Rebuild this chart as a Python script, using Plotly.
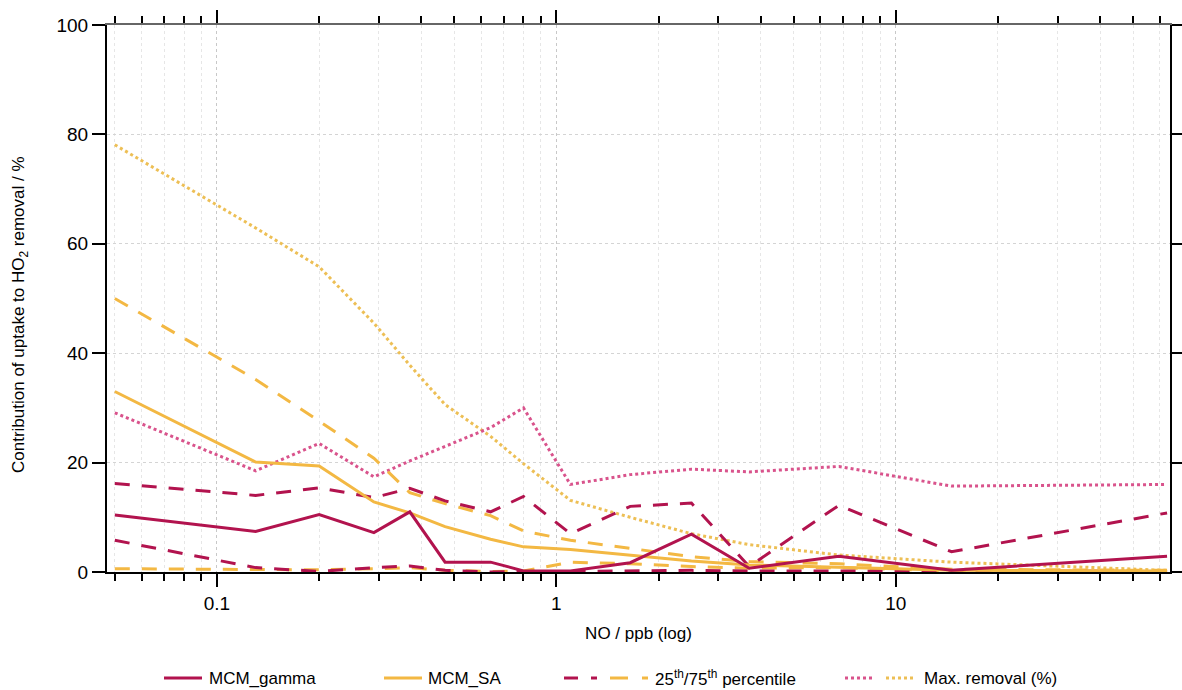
import plotly.graph_objects as go

# ---------------- data ----------------
no_ppb = [0.05, 0.13, 0.2, 0.29, 0.37, 0.47, 0.64, 0.8, 1.1, 1.65, 2.5, 3.7, 6.8, 14.6, 63]

gamma_med = [10.4, 7.4, 10.5, 7.2, 11.0, 1.8, 1.8, 0.2, 0.2, 1.7, 6.9, 0.7, 2.9, 0.3, 2.9]
gamma_p75 = [16.2, 14.0, 15.4, 13.6, 15.3, 13.0, 11.0, 13.8, 7.0, 12.0, 12.6, 1.0, 12.2, 3.7, 10.8]
gamma_p25 = [5.8, 0.8, 0.1, 0.8, 1.1, 0.3, 0.0, 0.1, 0.1, 0.2, 0.3, 0.2, 0.2, 0.1, 0.1]
gamma_max = [29.1, 18.5, 23.5, 17.4, 20.3, 23.0, 26.4, 30.0, 16.0, 17.8, 18.8, 18.3, 19.3, 15.7, 16.0]

sa_med = [33.0, 20.1, 19.4, 12.8, 10.8, 8.3, 6.0, 4.6, 4.1, 3.0, 2.0, 1.3, 0.9, 0.3, 0.2]
sa_p75 = [50.0, 35.2, 27.6, 20.8, 14.5, 12.5, 10.3, 7.5, 5.8, 4.3, 2.8, 1.9, 1.5, 0.5, 0.3]
sa_p25 = [0.6, 0.5, 0.4, 0.6, 0.8, 0.3, 0.1, 0.2, 1.8, 1.5, 1.0, 0.7, 0.8, 0.2, 0.1]
sa_max = [78.1, 62.9, 55.8, 45.5, 37.8, 30.6, 24.8, 19.8, 13.1, 10.0, 7.0, 5.0, 3.1, 1.8, 0.3]

x_major = [0.1, 1, 10]
x_major_labels = ["0.1", "1", "10"]
x_minor = [0.05, 0.06, 0.07, 0.08, 0.09,
           0.2, 0.3, 0.4, 0.5, 0.6, 0.7, 0.8, 0.9,
           2, 3, 4, 5, 6, 7, 8, 9,
           20, 30, 40, 50, 60]
y_ticks = [0, 20, 40, 60, 80, 100]

legend_labels = ["MCM_gamma", "MCM_SA", "25<sup>th</sup>/75<sup>th</sup> percentile", "Max. removal (%)"]

# ---------------- styles ----------------
MAG = "#B2134E"
YEL = "#F3B843"
PINK = "#D9538C"
YDOT = "#EDBF55"
FONT = "Arial, Liberation Sans, sans-serif"
DOT = "3px,3px"
DASH = "15px,12px"

W, H = 1182, 690
L, R, T, B = 107, 12, 25, 118
PW, PH = W - L - R, H - T - B


def px2paper_x(px):
    return (px - L) / PW


def py2paper_y(py):
    return (H - B - py) / PH


fig = go.Figure()

series = [
    (sa_max, YDOT, DOT, 3),
    (gamma_max, PINK, DOT, 3),
    (sa_p75, YEL, DASH, 3),
    (sa_p25, YEL, DASH, 3),
    (gamma_p75, MAG, DASH, 3),
    (gamma_p25, MAG, DASH, 3),
    (sa_med, YEL, "solid", 3),
    (gamma_med, MAG, "solid", 3),
]
for ys, col, dash, wd in series:
    fig.add_trace(go.Scatter(x=no_ppb, y=ys, mode="lines",
                             line=dict(color=col, dash=dash, width=wd),
                             showlegend=False, hoverinfo="skip"))

# dummy trace to carry the top axis
fig.add_trace(go.Scatter(x=[0.1], y=[None], xaxis="x2", yaxis="y",
                         mode="lines", showlegend=False, hoverinfo="skip"))

xr = [-1.324, 1.808]
fig.update_layout(
    width=W, height=H,
    margin=dict(l=L, r=R, t=T, b=B, autoexpand=False),
    paper_bgcolor="white", plot_bgcolor="white",
    font=dict(family=FONT, color="black"),
    showlegend=False,
    xaxis=dict(
        type="log", range=xr, automargin=False,
        tickmode="array", tickvals=x_major, ticktext=x_major_labels,
        ticks="outside", ticklen=13, tickwidth=1.5, tickcolor="black",
        showline=True, linecolor="black", linewidth=2,
        tickfont=dict(size=19),
        showgrid=True, gridcolor="#c8c8c8", griddash="dot", gridwidth=1,
        minor=dict(tickmode="array", tickvals=x_minor, ticks="outside",
                   ticklen=7, tickwidth=1.5, tickcolor="black",
                   showgrid=True, gridcolor="#e6e6e6", griddash="dot", gridwidth=1),
        zeroline=False,
        title=dict(text="NO / ppb (log)", font=dict(size=17), standoff=14),
    ),
    xaxis2=dict(
        type="log", range=xr, overlaying="x", side="top", automargin=False,
        tickmode="array", tickvals=x_major, showticklabels=False,
        ticks="outside", ticklen=13, tickwidth=1.5, tickcolor="black",
        showline=True, linecolor="#666666", linewidth=2,
        showgrid=False,
        minor=dict(tickmode="array", tickvals=x_minor, ticks="outside",
                   ticklen=7, tickwidth=1.5, tickcolor="black", showgrid=False),
        zeroline=False,
    ),
    yaxis=dict(
        range=[0, 100], tickmode="array", tickvals=y_ticks, automargin=False,
        ticks="outside", ticklen=13, tickwidth=1.5, tickcolor="black",
        showline=True, linecolor="black", linewidth=2, mirror="ticks",
        tickfont=dict(size=19),
        showgrid=True, gridcolor="#d4d4d4", griddash="dot", gridwidth=1,
        zeroline=False,
    ),
)

annotations = []
shapes = []

# y-axis title
annotations.append(dict(
    x=px2paper_x(20), y=py2paper_y(315), xref="paper", yref="paper",
    text="Contribution of uptake to HO<sub>2</sub> removal / %",
    textangle=-90, showarrow=False, font=dict(size=17, family=FONT),
    xanchor="center", yanchor="middle"))

# manual legend
ly = 678


def seg(x0, x1, col, dash="solid", wd=3):
    shapes.append(dict(type="line", xref="paper", yref="paper",
                       x0=px2paper_x(x0), x1=px2paper_x(x1),
                       y0=py2paper_y(ly), y1=py2paper_y(ly),
                       line=dict(color=col, width=wd, dash=dash)))


def label(x0, txt):
    annotations.append(dict(x=px2paper_x(x0), y=py2paper_y(ly), xref="paper", yref="paper",
                            text=txt, showarrow=False, xanchor="left", yanchor="middle",
                            font=dict(size=17, family=FONT)))


seg(164, 202, MAG)
label(207, legend_labels[0])
seg(384, 422, YEL)
label(426, legend_labels[1])
seg(564, 578, MAG)
seg(591, 597, MAG)
seg(610, 628, YEL)
seg(642, 648, YEL)
label(653, legend_labels[2])
seg(845, 872, PINK, DOT, 3)
seg(886, 913, YDOT, DOT, 3)
label(922, legend_labels[3])

fig.update_layout(annotations=annotations, shapes=shapes)

fig.write_html("out.html")
